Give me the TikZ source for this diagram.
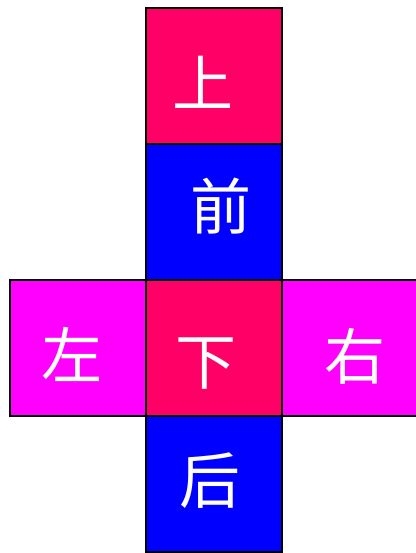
\documentclass[tikz,border=0pt]{standalone}
\usepackage{fontspec}
\newfontfamily\cjk{Noto Sans CJK SC}
\usetikzlibrary{positioning}
\definecolor{faceRed}{RGB}{255,0,102}
\definecolor{faceBlue}{RGB}{0,0,255}
\definecolor{faceMag}{RGB}{255,0,255}

\begin{document}
\begin{tikzpicture}[x=1pt, y=-1pt, node distance=0pt,
    face/.style={draw=black, line width=1.5pt, minimum size=136pt, inner sep=0pt, outer sep=0pt},
    facetext/.style={text=white, font=\cjk\fontsize{61}{61}\selectfont, inner sep=0pt}]
    \useasboundingbox (0,0) rectangle (415,553);
    \node[face, fill=faceRed] (up) at (214,76) {};
    \node[face, fill=faceBlue, below=of up] (front) {};
    \node[face, fill=faceRed, below=of front] (bottom) {};
    \node[face, fill=faceMag, left=of bottom] (left) {};
    \node[face, fill=faceMag, right=of bottom] (right) {};
    \node[face, fill=faceBlue, below=of bottom] (back) {};
    % labels, a bit off centre as in the drawing
    \node[facetext] (tUp) at ([shift={(-11.5,6)}]up.center) {上};
    \node[facetext] (tFront) at ([shift={(6.5,-5.5)}]front.center) {前};
    \node[facetext] (tBottom) at ([shift={(-8,16)}]bottom.center) {下};
    \node[facetext] (tLeft) at ([shift={(-6.5,6.5)}]left.center) {左};
    \node[facetext] (tRight) at ([shift={(5,8)}]right.center) {右};
    \node[facetext] (tBack) at ([shift={(-4,-3.5)}]back.center) {后};
\end{tikzpicture}
\end{document}
